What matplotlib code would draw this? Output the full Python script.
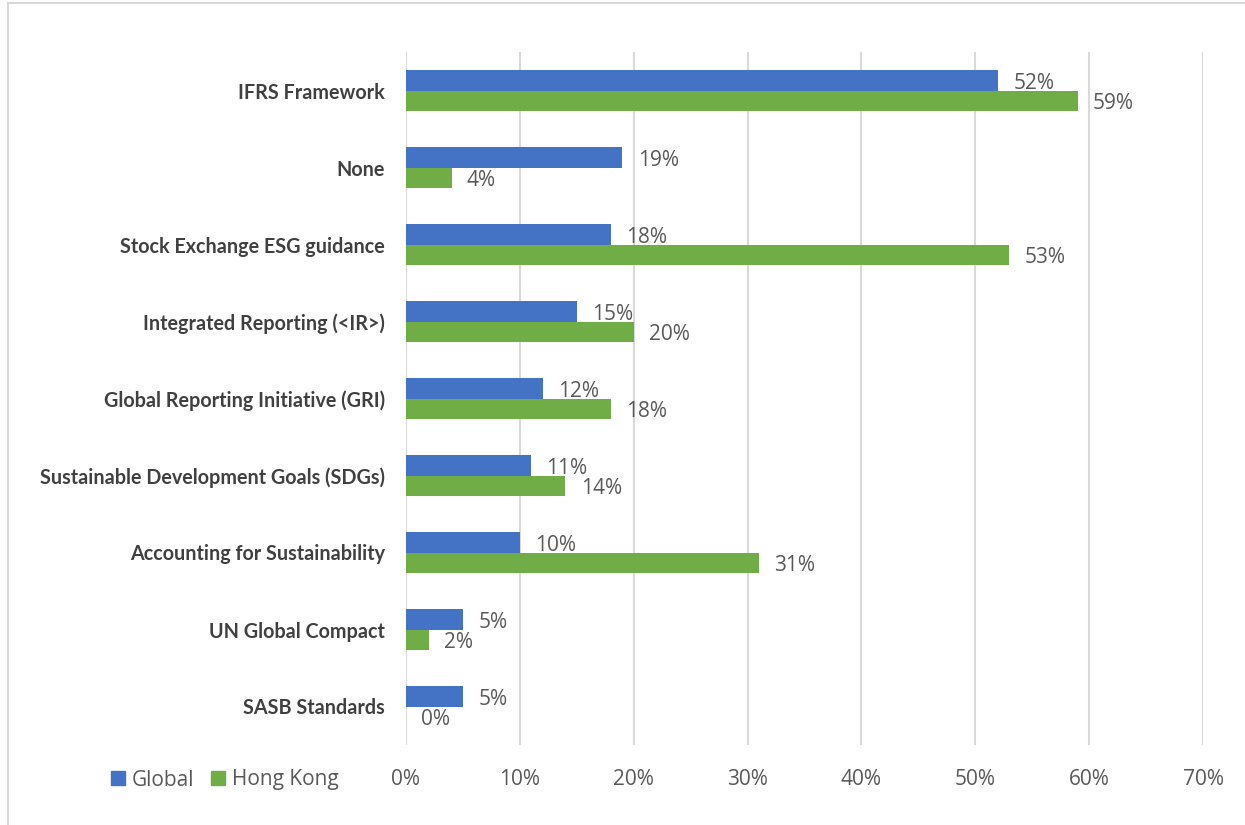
import matplotlib.pyplot as plt
from matplotlib.lines import Line2D
from matplotlib.patches import Patch
import numpy as np

plt.rcParams['font.family'] = ['Lato', 'DejaVu Sans']

categories = ["IFRS Framework", "None", "Stock Exchange ESG guidance",
              "Integrated Reporting (<IR>)", "Global Reporting Initiative (GRI)",
              "Sustainable Development Goals (SDGs)", "Accounting for Sustainability",
              "UN Global Compact", "SASB Standards"]
global_vals = [52, 19, 18, 15, 12, 11, 10, 5, 5]
hk_vals = [59, 4, 53, 20, 18, 14, 31, 2, 0]
x_ticks = [0, 10, 20, 30, 40, 50, 60, 70]

BLUE = "#4472C4"
GREEN = "#70AD47"
TXT = "#595959"
NUMFONT = ["Open Sans", "DejaVu Sans"]

fig = plt.figure(figsize=(12.45, 8.25), dpi=100)
fig.patch.set_facecolor("white")
ax = fig.add_axes([406 / 1245, 1 - 745 / 825, 797 / 1245, 693 / 825])

y = np.arange(len(categories))
h = 0.26
b1 = ax.barh(y - h / 2, global_vals, height=h, color=BLUE, label="Global", zorder=3)
b2 = ax.barh(y + h / 2, hk_vals, height=h, color=GREEN, label="Hong Kong", zorder=3)

# value labels right of each bar
for bars, vals in ((b1, global_vals), (b2, hk_vals)):
    for rect, v in zip(bars, vals):
        ax.annotate(f"{v}%", (rect.get_width(), rect.get_y() + rect.get_height() / 2),
                    xytext=(11, -2), textcoords="offset points", ha="left", va="center",
                    fontsize=15, color=TXT, family=NUMFONT)

ax.set_xlim(0, 70)
ax.set_ylim(len(categories) - 0.5, -0.5)
ax.set_xticks(x_ticks)
ax.set_xticklabels([f"{t}%" for t in x_ticks], fontsize=15, color=TXT, family=NUMFONT)
ax.set_yticks(y)
ax.set_yticklabels(categories, fontsize=14.2, fontweight="bold", color="#404040")
ax.tick_params(axis="both", length=0)
ax.tick_params(axis="x", pad=17)
ax.tick_params(axis="y", pad=15)
ax.xaxis.grid(True, color="#d9d9d9", lw=1.5, zorder=0)
ax.set_axisbelow(True)
for s in ax.spines.values():
    s.set_visible(False)

# outer chart border (left and top edges visible)
fig.add_artist(Line2D([8 / 1245, 8 / 1245], [0, 1 - 3 / 825], transform=fig.transFigure,
                      color="#d9d9d9", lw=1.5))
fig.add_artist(Line2D([8 / 1245, 1], [1 - 3 / 825, 1 - 3 / 825], transform=fig.transFigure,
                      color="#d9d9d9", lw=1.5))

handles = [Patch(color=BLUE), Patch(color=GREEN)]
fig.legend(handles, ["Global", "Hong Kong"], loc="center left",
           bbox_to_anchor=(111 / 1245, 1 - 780 / 825), ncol=2, frameon=False,
           borderpad=0, borderaxespad=0,
           handlelength=0.65, handleheight=0.65, handletextpad=0.35, columnspacing=0.8,
           prop={"family": NUMFONT, "size": 15}, labelcolor=TXT)

plt.savefig("out.png", dpi=100, facecolor="white")
plt.close()
